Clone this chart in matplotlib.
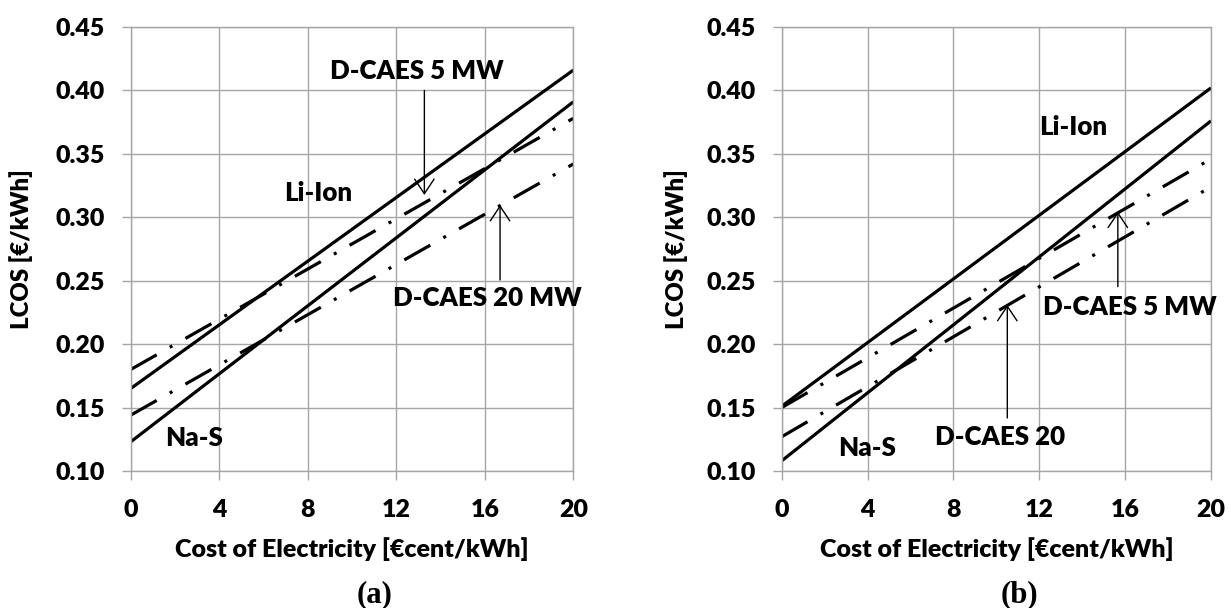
import matplotlib
matplotlib.use("Agg")
import matplotlib.pyplot as plt

TEXT_WEIGHT = 800
plt.rcParams['font.family'] = ['Lato', 'DejaVu Sans']
plt.rcParams['font.weight'] = TEXT_WEIGHT
plt.rcParams['lines.scale_dashes'] = False

# Data (endpoints of the linear LCOS curves)
elec_cost = [0, 20]  # €cent/kWh

a_li_ion = [0.165, 0.416]
a_nas = [0.123, 0.391]
a_dcaes5 = [0.180, 0.378]
a_dcaes20 = [0.144, 0.342]

b_li_ion = [0.151, 0.402]
b_nas = [0.108, 0.376]
b_dcaes5 = [0.150, 0.346]
b_dcaes20 = [0.127, 0.324]

x_ticks = [0, 4, 8, 12, 16, 20]
y_ticks = [0.10, 0.15, 0.20, 0.25, 0.30, 0.35, 0.40, 0.45]
y_ticklabels = ['0.10', '0.15', '0.20', '0.25', '0.30', '0.35', '0.40', '0.45']

W, H = 1231, 608
fig = plt.figure(figsize=(W / 100, H / 100), dpi=100)
renderer = fig.canvas.get_renderer()


def fit_size(s, target_px, family=None, weight=TEXT_WEIGHT):
    """font size (pt) that makes string s target_px wide."""
    kw = dict(fontsize=20, fontweight=weight)
    if family:
        kw['family'] = family
    t = fig.text(0, 0, s, **kw)
    w = t.get_window_extent(renderer).width
    t.remove()
    return 20 * target_px / w


serif = ['Liberation Serif', 'DejaVu Serif']
tick_fs = fit_size('0.45', 49)
label_fs = fit_size('Cost of Electricity [€cent/kWh]', 354)
ylabel_fs = fit_size('LCOS [€/kWh]', 160)
ann_fs = fit_size('D-CAES 5 MW', 173)
panel_fs = fit_size('(a)', 36, serif, 'bold')


def px_axes(l, r, t, b):
    return fig.add_axes([l / W, 1 - b / H, (r - l) / W, (b - t) / H])


ax_a = px_axes(130.7, 573.3, 27, 471)
ax_b = px_axes(781.7, 1211, 27, 471)

grid_c = '#a6a6a6'
dashdot = (0, (21.5, 10.8, 2.2, 10.8))
LW = 2.3


def style(ax, l, r, ylab_px):
    ax.set_xlim(0, 20)
    ax.set_ylim(0.10, 0.45)
    ax.set_xticks(x_ticks)
    ax.set_yticks(y_ticks)
    ax.set_yticklabels(y_ticklabels)
    ax.grid(True, color=grid_c, linewidth=1.0)
    ax.set_axisbelow(True)
    for s in ax.spines.values():
        s.set_color(grid_c)
        s.set_linewidth(1.0)
    ax.tick_params(axis='both', colors=grid_c, labelcolor='black',
                   labelsize=tick_fs, length=6.5, width=1.0, direction='out')
    ax.tick_params(axis='y', pad=12)
    ax.tick_params(axis='x', pad=14)
    for lab in ax.get_xticklabels() + ax.get_yticklabels():
        lab.set_fontweight(TEXT_WEIGHT)
    ax.set_xlabel('Cost of Electricity [€cent/kWh]', fontsize=label_fs,
                  fontweight=TEXT_WEIGHT, va='center')
    ax.set_ylabel('LCOS [€/kWh]', fontsize=ylabel_fs, fontweight=TEXT_WEIGHT,
                  va='center')
    ax.xaxis.set_label_coords(0.5, (471 - 549) / 444)
    ax.yaxis.set_label_coords((ylab_px - l) / (r - l), 0.5)


def arrow(ax, x, y0, y1):
    ax.annotate('', xy=(x, y1), xytext=(x, y0),
                arrowprops=dict(arrowstyle='->,head_length=0.75,head_width=0.5',
                                color='black', lw=1.0, shrinkA=0, shrinkB=0,
                                mutation_scale=14))


tk = dict(fontsize=ann_fs, fontweight=TEXT_WEIGHT, ha='center', va='center')

# Panel (a)
ax = ax_a
ax.plot(elec_cost, a_li_ion, color='black', lw=LW, solid_capstyle='butt')
ax.plot(elec_cost, a_nas, color='black', lw=LW, solid_capstyle='butt')
ax.plot(elec_cost, a_dcaes5, color='black', lw=LW, linestyle=dashdot, dash_capstyle='butt')
ax.plot(elec_cost, a_dcaes20, color='black', lw=LW, linestyle=dashdot, dash_capstyle='butt')
style(ax, 130.7, 573.3, 21.5)
ax.text(12.91, 0.415, 'D-CAES 5 MW', **tk)
ax.text(8.46, 0.319, 'Li-Ion', **tk)
ax.text(2.87, 0.126, 'Na-S', **tk)
ax.text(16.10, 0.2364, 'D-CAES 20 MW', **tk)
arrow(ax, 13.27, 0.400, 0.3176)
arrow(ax, 16.69, 0.2506, 0.3097)

# Panel (b)
ax = ax_b
ax.plot(elec_cost, b_li_ion, color='black', lw=LW, solid_capstyle='butt')
ax.plot(elec_cost, b_nas, color='black', lw=LW, solid_capstyle='butt')
ax.plot(elec_cost, b_dcaes5, color='black', lw=LW, linestyle=dashdot, dash_capstyle='butt')
ax.plot(elec_cost, b_dcaes20, color='black', lw=LW, linestyle=dashdot, dash_capstyle='butt')
style(ax, 781.7, 1211, 676)
ax.text(13.57, 0.371, 'Li-Ion', **tk)
ax.text(16.22, 0.2293, 'D-CAES 5 MW', **tk)
ax.text(10.17, 0.1268, 'D-CAES 20', **tk)
ax.text(3.97, 0.1181, 'Na-S', **tk)
arrow(ax, 15.66, 0.2453, 0.3044)
arrow(ax, 10.51, 0.1418, 0.2309)

fig.text(375 / W, 1 - 595 / H, '(a)', fontsize=panel_fs, fontweight='bold',
         family=serif, ha='center', va='center')
fig.text(1019 / W, 1 - 595 / H, '(b)', fontsize=panel_fs, fontweight='bold',
         family=serif, ha='center', va='center')

fig.savefig('out.png', dpi=100)
